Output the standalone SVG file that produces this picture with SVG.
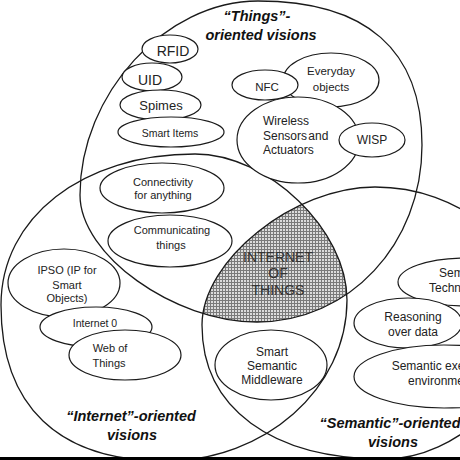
<svg xmlns="http://www.w3.org/2000/svg" width="460" height="460" viewBox="0 0 460 460">
<style>
.big{fill:none;stroke:#1a1a1a;stroke-width:1.3}
.node{fill:#fff;stroke:#1a1a1a;stroke-width:1.2}
text{font-family:"Liberation Sans",Arial,sans-serif;fill:#222}
.t{text-anchor:middle}
.vis{font-weight:bold;font-style:italic;font-size:14.5px;text-anchor:middle;fill:#111}
.iot{font-size:14px;text-anchor:middle;fill:#333}
</style>
<defs>
<path id="pThings" d="M258,1 C366.2,1 422,50 422,145 C422,244.1 349.4,322 257,322 C173.8,322 80,254.7 80,195 C80,94.1 165.4,1 258,1Z"/>
<path id="pInternet" d="M195,154 C268,154 347,229.9 347,300 C347,388.6 265.1,461 165,461 C58.4,461 1,406.4 1,305 C1,217.4 82.5,154 195,154Z"/>
<path id="pSemantic" d="M375,187 C460.3,187 530,246 530,318 C530,388.5 457.5,459 385,459 C271.5,459 202,408.1 202,325 C202,260.1 293.7,187 375,187Z"/>
<clipPath id="cT"><use href="#pThings"/></clipPath>
<clipPath id="cI"><use href="#pInternet"/></clipPath>
<clipPath id="cS"><use href="#pSemantic"/></clipPath>
<pattern id="grid" width="3" height="3" patternUnits="userSpaceOnUse">
<rect width="3" height="3" fill="#dcdcdc"/>
<path d="M0,0.5H3M0.5,0V3" stroke="#7a7a7a" stroke-width="1"/>
</pattern>
</defs>
<rect width="460" height="460" fill="#fff"/>
<g id="iot-intersection">
<g clip-path="url(#cT)"><g clip-path="url(#cI)"><g clip-path="url(#cS)">
<rect x="150" y="150" width="250" height="200" fill="url(#grid)"/>
</g></g></g>
<text class="iot" x="278" y="262">INTERNET</text>
<text class="iot" x="278" y="278">OF</text>
<text class="iot" x="278" y="295">THINGS</text>
</g>
<g id="things-visions">
<use href="#pThings" class="big"/>
<text class="vis" x="257" y="21">“Things”-</text>
<text class="vis" x="261" y="40">oriented visions</text>
</g>
<g id="internet-visions">
<use href="#pInternet" class="big"/>
<text class="vis" x="131" y="421">“Internet”-oriented</text>
<text class="vis" x="132" y="440">visions</text>
</g>
<g id="semantic-visions">
<use href="#pSemantic" class="big"/>
<text class="vis" x="390" y="428">“Semantic”-oriented</text>
<text class="vis" x="393" y="447">visions</text>
</g>
<g id="connectors"/>
<g id="rfid"><ellipse class="node" cx="170" cy="49" rx="28" ry="14"/><text class="t" x="173" y="56" font-size="14">RFID</text></g>
<g id="uid"><ellipse class="node" cx="152" cy="77" rx="30" ry="14"/><text class="t" x="150" y="85" font-size="14">UID</text></g>
<g id="spimes"><ellipse class="node" cx="160.5" cy="105" rx="40.5" ry="15"/><text class="t" x="161" y="110" font-size="13">Spimes</text></g>
<g id="smart-items"><ellipse class="node" cx="171" cy="132" rx="53" ry="15"/><text class="t" x="170" y="137" font-size="10.5">Smart Items</text></g>
<g id="everyday-objects"><ellipse class="node" cx="331" cy="80" rx="48" ry="27"/><text class="t" x="331" y="75" font-size="11.5">Everyday</text><text class="t" x="331" y="91" font-size="11.5">objects</text></g>
<g id="nfc"><ellipse class="node" cx="265" cy="85" rx="33" ry="15"/><text class="t" x="267" y="91" font-size="11.5">NFC</text></g>
<g id="wsa"><ellipse class="node" cx="298" cy="140" rx="61" ry="43"/><text x="263" y="125" font-size="12">Wireless</text><text x="263" y="140" font-size="12" word-spacing="-2">Sensors and</text><text x="263" y="154" font-size="12">Actuators</text></g>
<g id="wisp"><ellipse class="node" cx="372" cy="140" rx="33" ry="17"/><text class="t" x="372" y="144" font-size="12">WISP</text></g>
<g id="connectivity"><ellipse class="node" cx="162" cy="188" rx="62" ry="25"/><text class="t" x="163" y="186" font-size="11">Connectivity</text><text class="t" x="163" y="199" font-size="11">for anything</text></g>
<g id="communicating"><ellipse class="node" cx="170" cy="241" rx="62" ry="26"/><text class="t" x="172" y="234" font-size="11">Communicating</text><text class="t" x="171" y="249" font-size="11">things</text></g>
<g id="ipso"><ellipse class="node" cx="64" cy="283" rx="56" ry="34"/><text class="t" x="67" y="274" font-size="11">IPSO (IP for</text><text class="t" x="67" y="289" font-size="11">Smart</text><text class="t" x="67" y="302" font-size="11">Objects)</text></g>
<g id="internet0"><ellipse class="node" cx="96" cy="327" rx="56" ry="20"/><text class="t" x="95" y="327" font-size="10.5">Internet 0</text></g>
<g id="web-of-things"><ellipse class="node" cx="125" cy="355" rx="56" ry="25"/><text class="t" x="110" y="352" font-size="11">Web of</text><text class="t" x="109" y="367" font-size="11">Things</text></g>
<g id="smart-semantic-middleware"><ellipse class="node" cx="271" cy="365" rx="56" ry="35"/><text class="t" x="272" y="356" font-size="12">Smart</text><text class="t" x="272" y="370" font-size="12">Semantic</text><text class="t" x="272" y="384" font-size="12">Middleware</text></g>
<g id="semantic-technologies"><ellipse class="node" cx="465" cy="282" rx="67" ry="24"/><text class="t" x="464" y="277" font-size="12">Semantic</text><text class="t" x="464" y="292" font-size="12">Technologies</text></g>
<g id="reasoning"><ellipse class="node" cx="408" cy="323" rx="54" ry="25"/><text class="t" x="413" y="321" font-size="12">Reasoning</text><text class="t" x="413" y="336" font-size="12">over data</text></g>
<g id="semantic-execution"><ellipse class="node" cx="444" cy="376.5" rx="90" ry="31.5"/><text class="t" x="444" y="370" font-size="12">Semantic execution</text><text class="t" x="444" y="385" font-size="12">environments</text></g>
<rect x="0" y="457" width="460" height="3" fill="#000"/>
</svg>
